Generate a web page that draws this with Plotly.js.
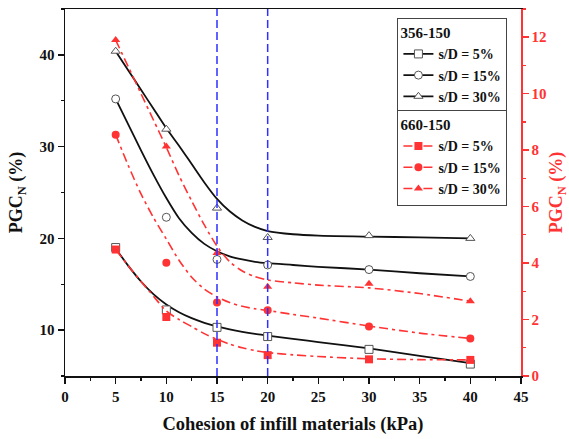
<!DOCTYPE html>
<html>
<head>
<meta charset="utf-8">
<script src="https://cdn.plot.ly/plotly-3.0.1.min.js"></script>
<style>
  html, body { margin: 0; padding: 0; background: #fff; }
  #chart { width: 569px; height: 439px; }
</style>
</head>
<body>
<div id="chart"></div>
<script>
// Measured data points (cohesion in kPa)
const cohesion = [5, 10, 15, 20, 30, 40];
// 356-150 (left axis, PGC_N %)
const g356_sd5  = [19.0, 12.2, 10.3, 9.3, 7.9, 6.3];
const g356_sd15 = [35.2, 22.3, 17.7, 17.1, 16.6, 15.85];
const g356_sd30 = [40.4, 31.9, 23.3, 20.1, 20.3, 20.0];
// 660-150 (right axis, PGC_N %)
const g660_sd5  = [4.48, 2.09, 1.18, 0.74, 0.59, 0.57];
const g660_sd15 = [8.55, 4.01, 2.6, 2.33, 1.75, 1.33];
const g660_sd30 = [11.9, 8.13, 4.36, 3.16, 3.27, 2.65];

// Fitted trend curves
const fitCohesion = [5, 6.25, 7.5, 8.75, 10, 11.25, 12.5, 13.75, 15, 16.25, 17.5, 18.75, 20, 22.5, 25, 30, 35, 40];
const fit356_sd5  = [18.9, 17.0, 15.3, 13.9, 12.8, 11.95, 11.3, 10.8, 10.4, 10.07, 9.8, 9.58, 9.4, 9.05, 8.7, 8.0, 7.2, 6.4];
const fit356_sd15 = [35.2, 32.4, 29.6, 26.9, 24.4, 22.2, 20.6, 19.4, 18.6, 18.05, 17.7, 17.45, 17.3, 17.1, 16.9, 16.6, 16.2, 15.85];
const fit356_sd30 = [40.4, 38.3, 36.2, 34.1, 32.0, 30.1, 28.1, 26.1, 24.3, 22.95, 21.95, 21.25, 20.8, 20.45, 20.3, 20.2, 20.1, 20.0];
const fit660_sd5  = [4.48, 3.9, 3.35, 2.82, 2.3, 2.0, 1.75, 1.5, 1.3, 1.13, 1.0, 0.9, 0.83, 0.75, 0.69, 0.61, 0.58, 0.57];
const fit660_sd15 = [8.55, 7.45, 6.45, 5.6, 4.85, 4.1, 3.5, 3.08, 2.8, 2.6, 2.47, 2.38, 2.32, 2.18, 2.05, 1.77, 1.52, 1.33];
const fit660_sd30 = [11.9, 10.95, 10.0, 9.05, 8.1, 7.1, 6.2, 5.35, 4.6, 4.05, 3.72, 3.52, 3.4, 3.3, 3.22, 3.12, 2.92, 2.65];

// Labels
const seriesLabels = ['s/D = 5%', 's/D = 15%', 's/D = 30%'];
const groupLabels = ['356-150', '660-150'];
const refLines = [15, 20];
const xTitle = 'Cohesion of infill materials (kPa)';
const yTitle = 'PGC<sub>N</sub> (%)';

const FONT = 'Liberation Serif, Times New Roman, serif';
const RED = '#ff3333';
const BLACK = '#111111';
const GREY = '#555555';
const BLUE = '#2f2fff';
const REDDASH = '9px,4px,3px,4px';

const blackSymbols = ['square', 'circle', 'triangle-up'];
const redSymbols = ['square', 'circle', 'triangle-up'];

const blackData = [g356_sd5, g356_sd15, g356_sd30];
const blackFit = [fit356_sd5, fit356_sd15, fit356_sd30];
const redData = [g660_sd5, g660_sd15, g660_sd30];
const redFit = [fit660_sd5, fit660_sd15, fit660_sd30];

const traces = [];
// fitted lines
for (let i = 0; i < 3; i++) {
  traces.push({
    x: fitCohesion, y: redFit[i], yaxis: 'y2', mode: 'lines',
    line: {color: RED, width: 1.6, dash: REDDASH, shape: 'spline', smoothing: 0.8},
    showlegend: false, hoverinfo: 'skip'
  });
}
for (let i = 0; i < 3; i++) {
  traces.push({
    x: fitCohesion, y: blackFit[i], yaxis: 'y', mode: 'lines',
    line: {color: BLACK, width: 1.8, shape: 'spline', smoothing: 0.8},
    showlegend: false, hoverinfo: 'skip'
  });
}
// markers
for (let i = 0; i < 3; i++) {
  traces.push({
    x: cohesion, y: redData[i], yaxis: 'y2', mode: 'markers',
    marker: {symbol: redSymbols[i], size: 8, color: RED, line: {width: 0}},
    showlegend: false
  });
}
for (let i = 0; i < 3; i++) {
  traces.push({
    x: cohesion, y: blackData[i], yaxis: 'y', mode: 'markers',
    marker: {symbol: blackSymbols[i], size: 8, color: '#ffffff', line: {width: 1, color: GREY}},
    showlegend: false
  });
}
// legend entries
for (let i = 0; i < 3; i++) {
  traces.push({
    x: [null], y: [null], yaxis: 'y', mode: 'lines+markers', name: seriesLabels[i],
    legend: 'legend',
    line: {color: BLACK, width: 1.8},
    marker: {symbol: blackSymbols[i], size: 8, color: '#ffffff', line: {width: 1, color: GREY}}
  });
}
for (let i = 0; i < 3; i++) {
  traces.push({
    x: [null], y: [null], yaxis: 'y2', mode: 'lines+markers', name: seriesLabels[i],
    legend: 'legend2',
    line: {color: RED, width: 1.6, dash: REDDASH},
    marker: {symbol: redSymbols[i], size: 8, color: RED, line: {width: 0}}
  });
}

const tickFont = {family: FONT, size: 15, color: BLACK, weight: 700};
const titleFont = {family: FONT, size: 18, color: BLACK, weight: 700};

const legendCommon = {
  x: 0.729, xanchor: 'left', yanchor: 'top',
  bgcolor: '#ffffff', bordercolor: '#444444', borderwidth: 1,
  font: {family: FONT, size: 14, color: BLACK, weight: 700},
  itemwidth: 30, tracegroupgap: 0
};

const layout = {
  width: 569, height: 439,
  margin: {l: 65, r: 48, t: 9, b: 63},
  paper_bgcolor: '#ffffff', plot_bgcolor: '#ffffff',
  showlegend: true,
  legend: Object.assign({}, legendCommon, {y: 0.976,
    title: {text: groupLabels[0], font: {family: FONT, size: 15, color: BLACK, weight: 700}}}),
  legend2: Object.assign({}, legendCommon, {y: 0.725,
    title: {text: groupLabels[1], font: {family: FONT, size: 15, color: BLACK, weight: 700}}}),
  xaxis: {
    range: [0, 45], tick0: 0, dtick: 5,
    ticks: 'outside', ticklen: 6, tickwidth: 1.5, tickcolor: BLACK,
    showline: true, linecolor: BLACK, linewidth: 1.5, mirror: true,
    showgrid: false, zeroline: false,
    tickfont: tickFont,
    minor: {dtick: 2.5, ticks: 'outside', ticklen: 3, tickwidth: 1.2, tickcolor: BLACK, showgrid: false},
    title: {text: xTitle, font: {family: FONT, size: 18.5, color: BLACK, weight: 700}, standoff: 13}
  },
  yaxis: {
    range: [5, 45], tick0: 0, dtick: 10,
    ticks: 'outside', ticklen: 6, tickwidth: 1.5, tickcolor: BLACK,
    showline: true, linecolor: BLACK, linewidth: 1.5,
    showgrid: false, zeroline: false,
    tickfont: tickFont,
    minor: {dtick: 5, ticks: 'outside', ticklen: 3, tickwidth: 1.2, tickcolor: BLACK, showgrid: false},
    title: {text: yTitle, font: titleFont, standoff: 12}
  },
  yaxis2: {
    overlaying: 'y', side: 'right',
    range: [0, 13], tick0: 0, dtick: 2,
    ticks: 'outside', ticklen: 6, tickwidth: 1.5, tickcolor: RED,
    showline: true, linecolor: RED, linewidth: 1.5,
    showgrid: false, zeroline: false,
    tickfont: {family: FONT, size: 15, color: RED, weight: 700},
    minor: {dtick: 1, ticks: 'outside', ticklen: 3, tickwidth: 1.2, tickcolor: RED, showgrid: false},
    title: {text: yTitle, font: {family: FONT, size: 18, color: RED, weight: 700}, standoff: 6}
  },
  shapes: refLines.map(v => ({
    type: 'line', xref: 'x', yref: 'paper', x0: v, x1: v, y0: 0, y1: 1,
    line: {color: BLUE, width: 1.5, dash: '8px,4px'}, layer: 'above'
  }))
};

Plotly.newPlot('chart', traces, layout, {staticPlot: true, displayModeBar: false});
</script>
</body>
</html>
